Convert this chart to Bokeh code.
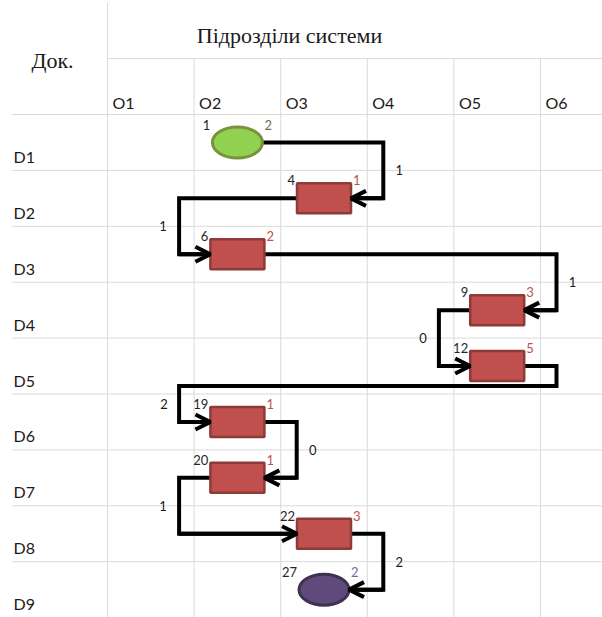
from bokeh.plotting import figure
from bokeh.models import Range1d, ColumnDataSource, Arrow, OpenHead
from bokeh.embed import file_html
from bokeh.resources import INLINE
from bokeh.core.properties import value

# ---------------- data ----------------
corner_label = "Док."
header_label = "Підрозділи системи"
units = ["O1", "O2", "O3", "O4", "O5", "O6"]
docs = ["D1", "D2", "D3", "D4", "D5", "D6", "D7", "D8", "D9"]

node_doc = ["D1", "D2", "D3", "D4", "D5", "D6", "D7", "D8", "D9"]
node_unit = ["O2", "O3", "O2", "O5", "O5", "O2", "O2", "O3", "O3"]
node_kind = ["start", "task", "task", "task", "task", "task", "task", "task", "end"]
node_start = [1, 4, 6, 9, 12, 19, 20, 22, 27]
node_dur = [2, 1, 2, 3, 5, 1, 1, 3, 2]

edge_weight = [1, 1, 1, 0, 2, 0, 1, 2]
edge_exit = ["R", "L", "R", "L", "R", "R", "L", "R"]
edge_entry = ["R", "L", "R", "L", "L", "R", "L", "R"]

# ---------------- layout ----------------
W, H = 602, 617
CW = 86.6          # px per column
RH = 55.9          # px per row
X0 = 107           # px of first column boundary
Y0 = 114           # px of first row boundary


def dx(px):
    return px / CW


def dy(px):
    return px / RH


p = figure(width=W, height=H, output_backend="svg", toolbar_location=None,
           x_range=Range1d(-X0 / CW, (W - X0) / CW),
           y_range=Range1d((H - Y0) / RH, -Y0 / RH),
           x_axis_type=None, y_axis_type=None, min_border=0)
p.outline_line_color = None
p.xgrid.visible = False
p.ygrid.visible = False
p.background_fill_color = "white"
p.border_fill_color = "white"

nU, nD = len(units), len(docs)
label_left = -dx(107 - 11)

# grid lines
gx0, gy0, gx1, gy1 = [], [], [], []
for i in range(nD + 1):
    gx0.append(label_left); gx1.append(nU + 0.5); gy0.append(i); gy1.append(i)
gx0.append(0); gx1.append(nU + 0.5); gy0.append(-1); gy1.append(-1)
gx0.append(0); gx1.append(0); gy0.append(-2); gy1.append(nD + 0.5)
for j in range(1, nU + 1):
    gx0.append(j); gx1.append(j); gy0.append(-1); gy1.append(nD + 0.5)
p.segment(gx0, gy0, gx1, gy1, line_color="#DADADA", line_width=1)

SERIF = value("Liberation Serif")
SANS = value("Lato")

# header texts
p.text(x=[-dx(55)], y=[-dy(54)], text=[corner_label], text_font=SERIF,
       text_font_size="22px", text_align="center", text_baseline="middle",
       text_color="#1a1a1a")
p.text(x=[dx(182)], y=[-dy(79)], text=[header_label], text_font=SERIF,
       text_font_size="22px", text_align="center", text_baseline="middle",
       text_color="#1a1a1a")

# column labels
p.text(x=[j + dx(5) for j in range(nU)], y=[-dy(12)] * nU, text=units,
       text_font=SANS, text_font_size="16px", text_align="left",
       text_baseline="middle", text_color="#1a1a1a")
# row labels
p.text(x=[-dx(107 - 13)] * nD, y=[i + 1 - dy(14) for i in range(nD)], text=docs,
       text_font=SANS, text_font_size="16px", text_align="left",
       text_baseline="middle", text_color="#1a1a1a")

# nodes
ux = [units.index(u) + 0.5 for u in node_unit]
vy = [docs.index(d) + 0.5 for d in node_doc]
RECT_W, RECT_H = dx(54), dy(30)
ELL_W, ELL_H = dx(50), dy(31)


def hw(i):
    return (RECT_W if node_kind[i] == "task" else ELL_W) / 2


# edges
px_, py_ = [], []
ax0, ay0, ax1, ay1 = [], [], [], []
lx, ly, lt = [], [], []
for k, w in enumerate(edge_weight):
    s, t = k, k + 1
    cs, ct = units.index(node_unit[s]), units.index(node_unit[t])
    right_x = max(cs, ct) + 1 + dx(16)
    left_x = min(cs, ct) - dx(15)
    ex = ux[s] + hw(s) if edge_exit[k] == "R" else ux[s] - hw(s)
    en = ux[t] + hw(t) if edge_entry[k] == "R" else ux[t] - hw(t)
    if edge_exit[k] == edge_entry[k]:
        rx = right_x if edge_exit[k] == "R" else left_x
        xs = [ex, rx, rx, en]
        ys = [vy[s], vy[s], vy[t], vy[t]]
        lx.append(rx + (dx(16) if edge_exit[k] == "R" else -dx(16)))
        ly.append((vy[s] + vy[t]) / 2)
    else:
        mid = docs.index(node_doc[s]) + 1 - dy(8)
        xs = [ex, right_x, right_x, left_x, left_x, en]
        ys = [vy[s], vy[s], mid, mid, vy[t], vy[t]]
        lx.append(left_x - dx(15))
        ly.append((mid + vy[t]) / 2)
    lt.append(str(w))
    px_.append(xs); py_.append(ys)
    ax0.append(xs[-2]); ay0.append(ys[-2]); ax1.append(xs[-1]); ay1.append(ys[-1])

p.multi_line(px_, py_, line_color="black", line_width=4, line_join="miter")

task_idx = [i for i, k in enumerate(node_kind) if k == "task"]
p.rect([ux[i] for i in task_idx], [vy[i] for i in task_idx], width=RECT_W,
       height=RECT_H, fill_color="#C0504D", line_color="#8E3A38", line_width=2.5)
ell_style = {"start": ("#92D050", "#77933C"), "end": ("#604A7B", "#3F3151")}
for i, kind in enumerate(node_kind):
    if kind in ell_style:
        f, l = ell_style[kind]
        p.ellipse([ux[i]], [vy[i]], width=ELL_W, height=ELL_H, fill_color=f,
                  line_color=l, line_width=3)

p.add_layout(Arrow(end=OpenHead(size=15, line_width=4, line_color="black"),
                   x_start="x0", y_start="y0", x_end="x1", y_end="y1",
                   source=ColumnDataSource(dict(x0=ax0, y0=ay0, x1=ax1, y1=ay1)),
                   line_color="black", line_width=4))

# edge weight labels
p.text(x=lx, y=ly, text=lt, text_font=SANS, text_font_size="13px",
       text_align="center", text_baseline="middle", text_color="#1a1a1a")

# node labels (placed near the top of each row)
lab_y = [docs.index(d) + dy(10) for d in node_doc]
right_colors = {"start": "#6B7050", "task": "#C0504D", "end": "#8064A2"}
p.text(x=[ux[i] - hw(i) - dx(2) for i in range(len(ux))], y=lab_y,
       text=[str(v) for v in node_start], text_font=SANS, text_font_size="13px",
       text_align="right", text_baseline="middle", text_color="#262626")
p.text(x=[ux[i] + hw(i) + dx(2) for i in range(len(ux))], y=lab_y,
       text=[str(v) for v in node_dur], text_font=SANS, text_font_size="13px",
       text_align="left", text_baseline="middle",
       text_color=[right_colors[k] for k in node_kind])

open("out.html", "w").write(file_html(p, INLINE))
